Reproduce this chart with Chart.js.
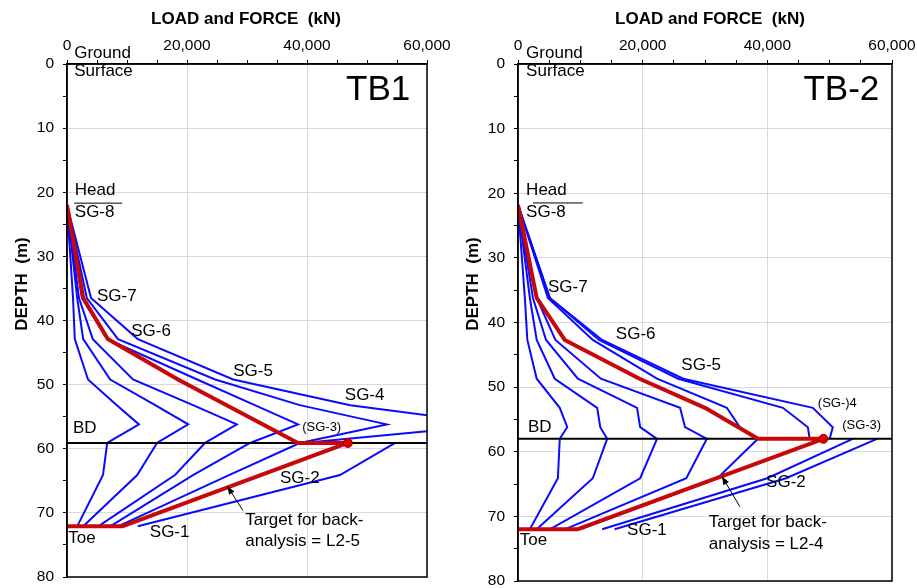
<!DOCTYPE html>
<html>
<head>
<meta charset="utf-8">
<script src="https://cdn.jsdelivr.net/npm/chart.js@4.4.1/dist/chart.umd.min.js"></script>
<style>
  html, body { margin: 0; padding: 0; background: #fff; }
  #wrap { position: relative; width: 917px; height: 588px; overflow: hidden; }
  #tb1 { position: absolute; left: 0; top: 0; }
  #tb2 { position: absolute; left: 451px; top: 0; }
</style>
</head>
<body>
<div id="wrap">
  <canvas id="tb1" width="451" height="588"></canvas>
  <canvas id="tb2" width="466" height="588"></canvas>
</div>
<script>
// ---------- TB1 gauge depths (m) ----------
const TB1_UP_DEPTH  = [22, 36.5, 42.9, 49.2, 53.2, 56.2, 59.1];   // SG-8 .. SG-3, BD
const TB1_LOW_DEPTH = [59.1, 64.1, 72.1];                          // BD, SG-2, SG-1/toe
const TB1_BD = 59.1;

// upward load distributions, one per load step (kN)
const TB1_UP = [
    [0, 1000, 1300,  3500,  8300, 12000,  6700],
    [0, 1700, 2700,  7200, 14700, 20200, 15000],
    [0, 2000, 4300, 11000, 21000, 28300, 23000],
    [0, 2500, 6700, 21700, 31300, 38500, 30500],
    [0, 3300, 8500, 24700, 38800, 53300, 38800],
    [0, 4000, 11800, 27700, 47200, 71800, 39300],
];
// downward load distributions (kN)
const TB1_LOW = [
    [6700,  6000,  1700],
    [15000, 11700, 2700],
    [23000, 18000, 5200],
    [30500, 21000, 7200],
    [38800, 27000, 8500],
    [54700, 45500, 11800],
];
// back-analysis target L2-5
const TB1_TARGET_X = [0, 2700, 6800, 18500, 38500, 46800, 9200, 0];
const TB1_TARGET_Y = [22, 36.5, 42.9, 49.2, 59.1, 59.1, 72.1, 72.1];
const TB1_TARGET_PEAK = 5;

// ---------- TB-2 ----------
const TB2_UP_DEPTH  = [21.8, 36.2, 42.7, 48.7, 53.2, 56.2, 58.0];
const TB2_LOW_DEPTH = [58.0, 64.1, 72.0];
const TB2_BD = 58.0;

const TB2_UP = [
    [0, 1100, 1500,  3000,  6700,  7900,  6700],
    [0, 1900, 3000,  5900, 12700, 13200, 14300],
    [0, 2400, 4500,  9600, 19100, 19600, 22300],
    [0, 3000, 6000, 13300, 26000, 26800, 30300],
    [0, 4800, 12000, 22300, 33500, 35600, 38500],
    [0, 5100, 13000, 25700, 42500, 46500, 46800],
    [0, 5100, 13500, 26500, 47300, 50500, 50000],
];
const TB2_LOW = [
    [6700,  6400,  1900],
    [14300, 12000, 3000],
    [22300, 19600, 5100],
    [30300, 27000, 7500],
    [38500, 32000, 10000],
    [53700, 40000, 13500],
    [57600, 43000, 15500],
];
const TB2_TARGET_X = [0, 3000, 7500, 19500, 30000, 38500, 49000, 9500, 0];
const TB2_TARGET_Y = [21.8, 36.2, 42.7, 48.7, 53.2, 58.0, 58.0, 72.0, 72.0];
const TB2_TARGET_PEAK = 6;

// axis ticks
const LOAD_TICKS_MAJOR = 20000;
const DEPTH_TICKS_MAJOR = 10;

const FONT = "'Liberation Sans', Arial, sans-serif";
const BLUE = '#0a0aff';
const RED = '#c80808';

function pts(xs, ys) { return xs.map((x, i) => ({ x, y: ys[i] })); }

function buildDatasets(up, upDepth, low, lowDepth, bd, tx, ty, peak) {
    const sets = [];
    sets.push({ data: [pts(tx, ty)[peak]], showLine: false, pointRadius: 4.5,
                pointBackgroundColor: '#e00000', pointBorderColor: '#a00000', pointBorderWidth: 1 });
    sets.push({ data: pts(tx, ty), borderColor: RED, borderWidth: 4, borderJoinStyle: 'round' });
    sets.push({ data: [{ x: 0, y: bd }, { x: 60000, y: bd }], borderColor: '#000', borderWidth: 2 });
    up.forEach(c => sets.push({ data: pts(c, upDepth), borderColor: BLUE, borderWidth: 2 }));
    low.forEach(c => sets.push({ data: pts(c, lowDepth), borderColor: BLUE, borderWidth: 2 }));
    return sets.map(s => Object.assign({ showLine: true, pointRadius: 0, fill: false, tension: 0 }, s));
}

// frame, axis titles, notes and arrow drawn on top of the series
const panelNotes = {
    id: 'panelNotes',
    afterDraw(chart, args, opts) {
        const { ctx, chartArea: a, scales: { x, y } } = chart;
        ctx.save();
        ctx.strokeStyle = '#000';
        ctx.lineWidth = 1.5;
        ctx.strokeRect(a.left, a.top, a.right - a.left, a.bottom - a.top);
        ctx.fillStyle = '#000';

        // axis titles
        ctx.font = 'bold 17px ' + FONT;
        ctx.textAlign = 'center';
        ctx.textBaseline = 'middle';
        ctx.fillText('LOAD and FORCE  (kN)', (a.left + a.right) / 2 + (opts.titleDx || 0), 19);
        ctx.save();
        ctx.translate(22, 284);
        ctx.rotate(-Math.PI / 2);
        ctx.fillText('DEPTH  (m)', 0, 0);
        ctx.restore();

        (opts.labels || []).forEach(l => {
            ctx.font = (l.size || 17) + 'px ' + FONT;
            ctx.textAlign = l.align || 'left';
            ctx.fillText(l.text, x.getPixelForValue(l.x), y.getPixelForValue(l.y));
        });
        if (opts.underline) {
            const u = opts.underline;
            ctx.lineWidth = 1;
            ctx.beginPath();
            ctx.moveTo(x.getPixelForValue(u[0]), y.getPixelForValue(u[2]));
            ctx.lineTo(x.getPixelForValue(u[1]), y.getPixelForValue(u[2]));
            ctx.stroke();
        }
        if (opts.arrow) {
            const [x0, y0, x1, y1] = opts.arrow;
            const p0 = [x.getPixelForValue(x0), y.getPixelForValue(y0)];
            const p1 = [x.getPixelForValue(x1), y.getPixelForValue(y1)];
            const ang = Math.atan2(p1[1] - p0[1], p1[0] - p0[0]);
            ctx.lineWidth = 1;
            ctx.beginPath();
            ctx.moveTo(p0[0], p0[1]);
            ctx.lineTo(p1[0], p1[1]);
            ctx.stroke();
            ctx.beginPath();
            ctx.moveTo(p1[0], p1[1]);
            ctx.lineTo(p1[0] - 9 * Math.cos(ang - 0.35), p1[1] - 9 * Math.sin(ang - 0.35));
            ctx.lineTo(p1[0] - 9 * Math.cos(ang + 0.35), p1[1] - 9 * Math.sin(ang + 0.35));
            ctx.closePath();
            ctx.fill();
        }
        ctx.restore();
    }
};

function makeChart(id, datasets, notes, padBottom, padRight) {
    return new Chart(document.getElementById(id), {
        type: 'scatter',
        data: { datasets },
        plugins: [panelNotes],
        options: {
            responsive: false,
            animation: false,
            layout: { padding: { left: 0, right: padRight, top: 0, bottom: padBottom } },
            plugins: { legend: { display: false }, tooltip: { enabled: false }, panelNotes: notes },
            scales: {
                x: {
                    type: 'linear', position: 'top', min: 0, max: 60000,
                    // fixed band above the plot; end labels may spill into the margin
                    afterFit: s => { s.height = 64; s.paddingLeft = 0; s.paddingRight = 0; },
                    border: { color: '#000', width: 1.5 },
                    grid: {
                        color: c => (c.tick && c.tick.value % LOAD_TICKS_MAJOR === 0) ? '#d9d9d9' : 'rgba(0,0,0,0)',
                        tickColor: '#000', tickLength: 4, lineWidth: 1
                    },
                    ticks: {
                        stepSize: 5000, autoSkip: false, maxRotation: 0, padding: 5, color: '#000',
                        font: { family: FONT, size: 15.5 },
                        callback: v => v % LOAD_TICKS_MAJOR === 0 ? v.toLocaleString('en-US') : ''
                    },
                    title: { display: false }
                },
                y: {
                    type: 'linear', reverse: true, min: 0, max: 80,
                    afterFit: s => { s.width = 67; s.paddingTop = 0; s.paddingBottom = 0; },
                    border: { color: '#000', width: 1.5 },
                    grid: {
                        color: c => (c.tick && c.tick.value % DEPTH_TICKS_MAJOR === 0) ? '#d9d9d9' : 'rgba(0,0,0,0)',
                        tickColor: '#000', tickLength: 4, lineWidth: 1
                    },
                    ticks: {
                        stepSize: 5, autoSkip: false, padding: 9, color: '#000',
                        font: { family: FONT, size: 15.5 },
                        callback: v => v % DEPTH_TICKS_MAJOR === 0 ? String(v) : ''
                    },
                    title: { display: false }
                }
            }
        }
    });
}

makeChart('tb1',
    buildDatasets(TB1_UP, TB1_UP_DEPTH, TB1_LOW, TB1_LOW_DEPTH, TB1_BD, TB1_TARGET_X, TB1_TARGET_Y, TB1_TARGET_PEAK),
    {
        titleDx: -1,
        labels: [
            { text: 'Ground', x: 1200, y: -1.6 },
            { text: 'Surface', x: 1200, y: 1.2 },
            { text: 'TB1', x: 46500, y: 4.1, size: 35 },
            { text: 'Head', x: 1300, y: 19.7 },
            { text: 'SG-8', x: 1300, y: 23.2 },
            { text: 'SG-7', x: 5000, y: 36.2 },
            { text: 'SG-6', x: 10700, y: 41.7 },
            { text: 'SG-5', x: 27700, y: 48 },
            { text: 'SG-4', x: 46300, y: 51.6 },
            { text: '(SG-3)', x: 39200, y: 56.6, size: 13 },
            { text: 'BD', x: 1000, y: 56.8 },
            { text: 'SG-2', x: 35500, y: 64.6 },
            { text: 'SG-1', x: 13800, y: 73 },
            { text: 'Toe', x: 200, y: 74 },
            { text: 'Target for back-', x: 29700, y: 71.1 },
            { text: 'analysis = L2-5', x: 29700, y: 74.4 },
        ],
        underline: [1200, 9200, 21.7],
        arrow: [29300, 69.6, 26700, 65.8]
    }, 11, 24);

makeChart('tb2',
    buildDatasets(TB2_UP, TB2_UP_DEPTH, TB2_LOW, TB2_LOW_DEPTH, TB2_BD, TB2_TARGET_X, TB2_TARGET_Y, TB2_TARGET_PEAK),
    {
        titleDx: 5,
        labels: [
            { text: 'Ground', x: 1300, y: -1.6 },
            { text: 'Surface', x: 1300, y: 1.2 },
            { text: 'TB-2', x: 45800, y: 4.1, size: 35 },
            { text: 'Head', x: 1300, y: 19.5 },
            { text: 'SG-8', x: 1300, y: 23 },
            { text: 'SG-7', x: 4800, y: 34.5 },
            { text: 'SG-6', x: 15700, y: 41.9 },
            { text: 'SG-5', x: 26200, y: 46.7 },
            { text: '(SG-)4', x: 48100, y: 52.5, size: 13 },
            { text: '(SG-3)', x: 52000, y: 55.9, size: 13 },
            { text: 'BD', x: 1600, y: 56.2 },
            { text: 'SG-2', x: 39800, y: 64.8 },
            { text: 'SG-1', x: 17500, y: 72.1 },
            { text: 'Toe', x: 300, y: 73.7 },
            { text: 'Target for back-', x: 30600, y: 70.9 },
            { text: 'analysis = L2-4', x: 30600, y: 74.3 },
        ],
        underline: [2400, 10400, 21.5],
        arrow: [35600, 68.5, 32700, 63.8]
    }, 7, 25);
</script>
</body>
</html>
